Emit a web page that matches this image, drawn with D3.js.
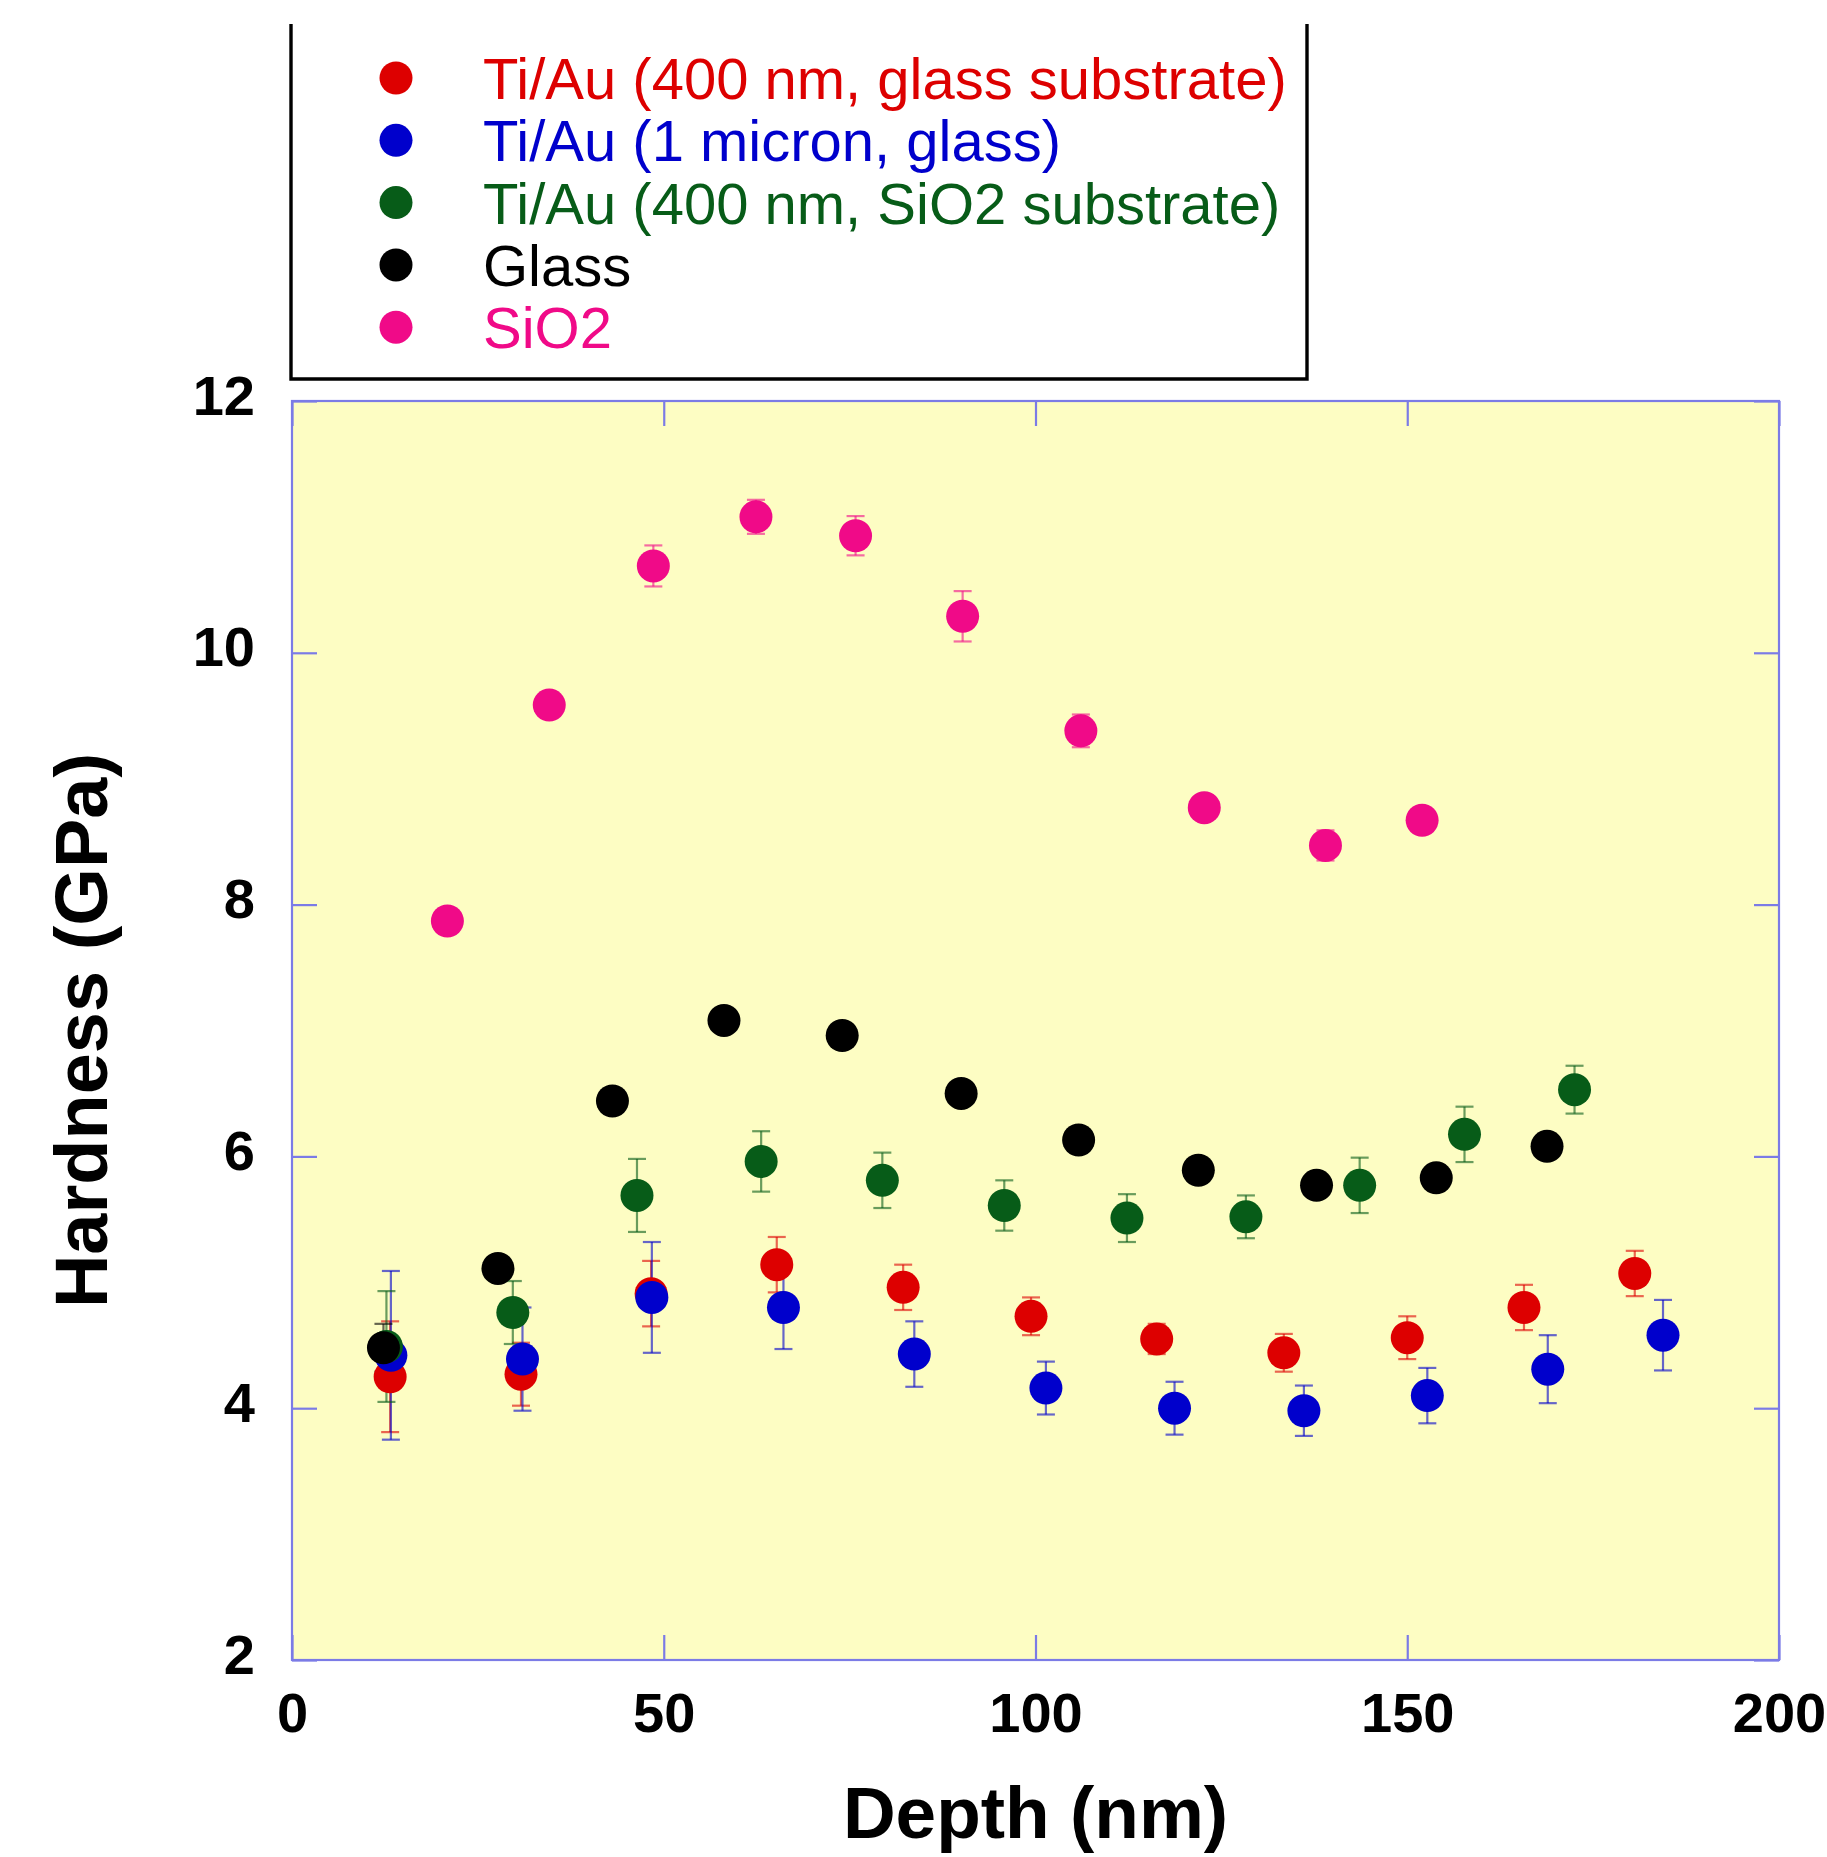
<!DOCTYPE html>
<html>
<head>
<meta charset="utf-8">
<script src="https://cdn.jsdelivr.net/npm/d3@7"></script>
<style>
  html, body { margin: 0; padding: 0; background: #ffffff; }
  svg { display: block; }
  text { font-family: "Liberation Sans", Arial, Helvetica, sans-serif; }
</style>
</head>
<body>
<svg id="chart" width="1827" height="1857"></svg>
<script>
// ---------------- data ----------------
const seriesNames = [
  "Ti/Au (400 nm, glass substrate)",
  "Ti/Au (1 micron, glass)",
  "Ti/Au (400 nm, SiO2 substrate)",
  "Glass",
  "SiO2"
];
const seriesColors = ["#dd0000", "#0000cc", "#075c18", "#000000", "#f00a88"];

// Ti/Au (400 nm, glass substrate)
const redDepth = [13.2, 30.8, 48.3, 65.2, 82.2, 99.4, 116.3, 133.4, 150.0, 165.7, 180.6];
const redHard  = [4.25, 4.27, 4.91, 5.14, 4.96, 4.73, 4.55, 4.44, 4.56, 4.80, 5.07];
const redErr   = [0.44, 0.25, 0.26, 0.22, 0.18, 0.15, 0.12, 0.15, 0.17, 0.18, 0.18];

// Ti/Au (1 micron, glass)
const blueDepth = [13.3, 31.0, 48.4, 66.1, 83.7, 101.4, 118.7, 136.1, 152.7, 168.9, 184.4];
const blueHard  = [4.42, 4.39, 4.88, 4.80, 4.43, 4.16, 4.00, 3.98, 4.10, 4.31, 4.58];
const blueErr   = [0.67, 0.41, 0.44, 0.33, 0.26, 0.21, 0.21, 0.20, 0.22, 0.27, 0.28];

// Ti/Au (400 nm, SiO2 substrate)
const greenDepth = [12.7, 29.7, 46.4, 63.1, 79.4, 95.8, 112.3, 128.3, 143.6, 157.7, 172.5];
const greenHard  = [4.49, 4.76, 5.69, 5.96, 5.81, 5.61, 5.51, 5.52, 5.77, 6.175, 6.53];
const greenErr   = [0.44, 0.25, 0.29, 0.24, 0.22, 0.20, 0.19, 0.17, 0.22, 0.22, 0.19];

// Glass
const blackDepth = [12.3, 27.7, 43.1, 58.1, 74.0, 90.0, 105.8, 121.9, 137.8, 153.9, 168.8];
const blackHard  = [4.48, 5.11, 6.44, 7.08, 6.96, 6.50, 6.13, 5.89, 5.77, 5.83, 6.08];
const blackErr   = [0.19, 0.05, 0.05, 0.05, 0.05, 0.05, 0.05, 0.05, 0.05, 0.05, 0.05];

// SiO2
const pinkDepth = [20.9, 34.6, 48.6, 62.4, 75.8, 90.2, 106.1, 122.7, 139.0, 152.0];
const pinkHard  = [7.87, 9.585, 10.69, 11.08, 10.93, 10.29, 9.38, 8.77, 8.47, 8.67];
const pinkErr   = [0.05, 0.05, 0.163, 0.135, 0.156, 0.20, 0.13, 0.10, 0.12, 0.05];

const xTicks = [0, 50, 100, 150, 200];
const yTicks = [2, 4, 6, 8, 10, 12];
const xTitle = "Depth (nm)";
const yTitle = "Hardness (GPa)";

// ---------------- build ----------------
const series = [
  {depth: redDepth, hard: redHard, err: redErr},
  {depth: blueDepth, hard: blueHard, err: blueErr},
  {depth: greenDepth, hard: greenHard, err: greenErr},
  {depth: blackDepth, hard: blackHard, err: blackErr},
  {depth: pinkDepth, hard: pinkHard, err: pinkErr}
].map((s, i) => ({
  name: seriesNames[i],
  color: seriesColors[i],
  points: s.depth.map((d, j) => ({x: d, y: s.hard[j], e: s.err[j]}))
}));

const svg = d3.select("#chart");
const L = 292, R = 1779, T = 401, B = 1660;
const x = d3.scaleLinear().domain([0, 200]).range([L, R]);
const y = d3.scaleLinear().domain([2, 12]).range([B, T]);

const axisColor = "#7b7be6";

// plot background
svg.append("rect")
  .attr("x", L).attr("y", T).attr("width", R - L).attr("height", B - T)
  .attr("fill", "#fdfdc3");

// axes (inward ticks)
const tickLen = 25;
const gB = svg.append("g").attr("transform", `translate(0,${B})`)
  .call(d3.axisBottom(x).tickValues(xTicks).tickSize(-tickLen).tickSizeOuter(0).tickPadding(0));
const gT = svg.append("g").attr("transform", `translate(0,${T})`)
  .call(d3.axisTop(x).tickValues(xTicks).tickSize(-tickLen).tickSizeOuter(0).tickFormat(""));
const gL = svg.append("g").attr("transform", `translate(${L},0)`)
  .call(d3.axisLeft(y).tickValues(yTicks).tickSize(-tickLen).tickSizeOuter(0).tickPadding(0));
const gR = svg.append("g").attr("transform", `translate(${R},0)`)
  .call(d3.axisRight(y).tickValues(yTicks).tickSize(-tickLen).tickSizeOuter(0).tickFormat(""));

[gB, gT, gL, gR].forEach(g => {
  g.select(".domain").remove();
  g.selectAll(".tick line").attr("stroke", axisColor).attr("stroke-width", 2.2);
});

gB.selectAll(".tick text")
  .attr("y", 0).attr("dy", null)
  .attr("transform", "translate(0,72)")
  .attr("fill", "#000")
  .style("font-size", "56px").style("font-weight", "bold")
  .attr("text-anchor", "middle");
gL.selectAll(".tick text")
  .attr("x", -37).attr("dy", null)
  .attr("y", 13)
  .attr("fill", "#000")
  .style("font-size", "56px").style("font-weight", "bold")
  .attr("text-anchor", "end");

// frame
svg.append("rect")
  .attr("x", L).attr("y", T).attr("width", R - L).attr("height", B - T)
  .attr("fill", "none").attr("stroke", axisColor).attr("stroke-width", 2.2);

// error bars
const capHalf = 9;
const eg = svg.append("g");
series.forEach(s => {
  const g = eg.append("g").attr("stroke", s.color).attr("stroke-width", 2.2).attr("stroke-opacity", 0.6);
  s.points.forEach(p => {
    const cx = x(p.x), y1 = y(p.y + p.e), y2 = y(p.y - p.e);
    g.append("line").attr("x1", cx).attr("x2", cx).attr("y1", y1).attr("y2", y2);
    g.append("line").attr("x1", cx - capHalf).attr("x2", cx + capHalf).attr("y1", y1).attr("y2", y1);
    g.append("line").attr("x1", cx - capHalf).attr("x2", cx + capHalf).attr("y1", y2).attr("y2", y2);
  });
});

// markers
series.forEach(s => {
  svg.append("g").selectAll("circle").data(s.points).join("circle")
    .attr("cx", d => x(d.x)).attr("cy", d => y(d.y)).attr("r", 16.5)
    .attr("fill", s.color);
});

// axis titles
svg.append("text")
  .attr("x", (L + R) / 2).attr("y", 1838)
  .attr("text-anchor", "middle")
  .style("font-size", "73px").style("font-weight", "bold")
  .text(xTitle);
svg.append("text")
  .attr("transform", `translate(107,${(T + B) / 2}) rotate(-90)`)
  .attr("text-anchor", "middle")
  .style("font-size", "74px").style("font-weight", "bold")
  .text(yTitle);

// legend
const lg = svg.append("g");
lg.append("path")
  .attr("d", "M291,24 L291,379 L1307,379 L1307,24")
  .attr("fill", "none").attr("stroke", "#000").attr("stroke-width", 3.4);
series.forEach((s, i) => {
  const by = 99 + i * 62.3;
  lg.append("circle").attr("cx", 396).attr("cy", by - 21).attr("r", 16.5).attr("fill", s.color);
  lg.append("text").attr("x", 483).attr("y", by)
    .attr("fill", s.color)
    .style("font-size", "58px")
    .text(s.name);
});
</script>
</body>
</html>
